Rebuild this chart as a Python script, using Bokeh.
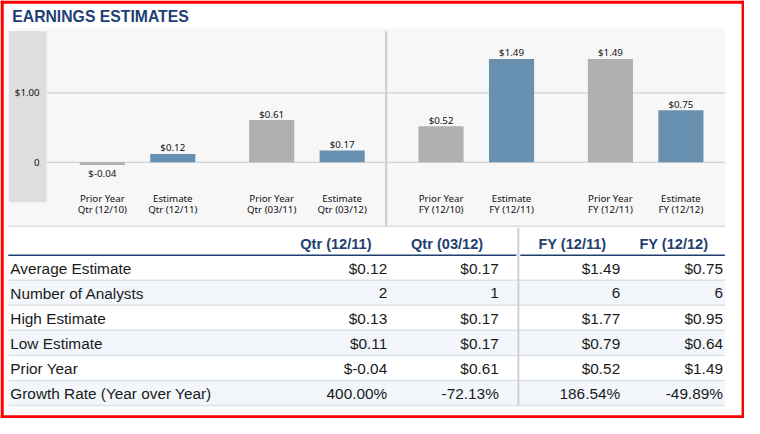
from bokeh.plotting import figure
from bokeh.models import Range1d, ColumnDataSource
from bokeh.transform import factor_cmap
from bokeh.core.properties import value
from bokeh.embed import file_html
from bokeh.resources import INLINE

# ---------------- data ----------------
title_text = "EARNINGS ESTIMATES"

bar_groups = ["Qtr (12/11)", "Qtr (12/11)", "Qtr (03/12)", "Qtr (03/12)",
              "FY (12/11)", "FY (12/11)", "FY (12/12)", "FY (12/12)"]
bar_kinds = ["Prior Year", "Estimate", "Prior Year", "Estimate",
             "Prior Year", "Estimate", "Prior Year", "Estimate"]
bar_periods = ["Qtr (12/10)", "Qtr (12/11)", "Qtr (03/11)", "Qtr (03/12)",
               "FY (12/10)", "FY (12/11)", "FY (12/11)", "FY (12/12)"]
bar_values = [-0.04, 0.12, 0.61, 0.17, 0.52, 1.49, 1.49, 0.75]

y_ticks = [0, 1]
y_tick_labels = ["0", "$1.00"]

table_headers = ["Qtr (12/11)", "Qtr (03/12)", "FY (12/11)", "FY (12/12)"]
row_labels = ["Average Estimate", "Number of Analysts", "High Estimate",
              "Low Estimate", "Prior Year", "Growth Rate (Year over Year)"]
average_estimate = [0.12, 0.17, 1.49, 0.75]
number_of_analysts = [2, 1, 6, 6]
high_estimate = [0.13, 0.17, 1.77, 0.95]
low_estimate = [0.11, 0.17, 0.79, 0.64]
prior_year = [-0.04, 0.61, 0.52, 1.49]
growth_rate = [400.00, -72.13, 186.54, -49.89]

# ---------------- layout (reference pixel space) ----------------
W, H = 744, 418
RW, RH = 760, 434
FS = 0.972  # font scale

def px(v):
    return f"{v * FS:.2f}px"

p = figure(width=W, height=H, x_range=Range1d(0, RW), y_range=Range1d(RH, 0),
           output_backend="svg", toolbar_location=None,
           x_axis_type=None, y_axis_type=None, min_border=0,
           outline_line_color=None, background_fill_color="white",
           border_fill_color="white")

# category slot scale: one slot per bar, extra gap between pairs
GP = 0.403
SLOT = 72.0
X0 = 104.0
p.extra_x_ranges = {"cx": Range1d(-X0 / SLOT, (RW - X0) / SLOT)}
p.extra_y_ranges = {"cy": Range1d(-(RH - 168) / 72.0, 168 / 72.0)}
bar_pos = []
for i, g in enumerate(bar_groups):
    k = len(dict.fromkeys(bar_groups[:i + 1])) - 1   # index of the group
    bar_pos.append(i + GP * k)

CHART_FONT = value("Noto Sans")
CHART_FS = px(10)

# red frame
p.quad(left=[0, 757, 0, 0], right=[3.3, RW, RW, RW], bottom=[0, 0, 0, 430.6],
       top=[RH, RH, 3.3, RH], fill_color="#FF0000", line_color=None)

# title
p.text(x=[12], y=[16.5], text=[title_text], text_font=value("Liberation Sans"),
       text_font_style="bold", text_font_size=px(16.2), text_color="#1E3F74",
       text_baseline="middle", text_align="left")

# chart background
p.quad(left=[8], right=[740], top=[29], bottom=[234], fill_color="#F7F7F7", line_color=None)
p.quad(left=[8.5], right=[47], top=[32], bottom=[209.5], fill_color="#DEDEDE", line_color=None)
p.segment(x0=[8], x1=[740], y0=[234.5], y1=[234.5], line_color="#DCDCDC", line_width=1.5)

# gridlines & y tick labels
tick_src = ColumnDataSource(dict(y=y_ticks, label=y_tick_labels))
p.segment(x0=47, x1=740, y0="y", y1="y", source=tick_src, y_range_name="cy",
          line_color="#D3D3D3", line_width=1.2)
p.text(x=40, y="y", text="label", source=tick_src, y_range_name="cy",
       text_font=CHART_FONT, text_font_size=CHART_FS, text_color="#111111",
       text_align="right", text_baseline="middle")

# divider in chart
p.segment(x0=[394], x1=[394], y0=[32], y1=[234], line_color="#CBCBCB", line_width=2)

# bars
bar_src = ColumnDataSource(dict(
    x=bar_pos, top=bar_values, kind=bar_kinds,
    label=[f"${v:.2f}" for v in bar_values],
    dy=[-6 if v >= 0 else 8.5 for v in bar_values],
    l1=bar_kinds, l2=bar_periods,
))
p.vbar(x="x", top="top", bottom=0, width=0.64, source=bar_src,
       x_range_name="cx", y_range_name="cy", line_color=None,
       fill_color=factor_cmap("kind", ["#B0B0B0", "#6890B1"], ["Prior Year", "Estimate"]))
p.text(x="x", y="top", text="label", y_offset="dy", source=bar_src,
       x_range_name="cx", y_range_name="cy", text_font=CHART_FONT,
       text_font_size=CHART_FS, text_color="#111111", text_align="center",
       text_baseline="middle")
p.text(x="x", y=205.5, text="l1", source=bar_src, x_range_name="cx",
       text_font=CHART_FONT, text_font_size=CHART_FS, text_color="#111111",
       text_align="center", text_baseline="middle")
p.text(x="x", y=217.5, text="l2", source=bar_src, x_range_name="cx",
       text_font=CHART_FONT, text_font_size=CHART_FS, text_color="#111111",
       text_align="center", text_baseline="middle")

# ---------------- table ----------------
HEAD_Y = 253
LINE_Y = 264.5
ROW_H = 26
value_right = [395, 509, 633, 738]
header_right = [379, 493, 619, 723]

n_rows = len(row_labels)
row_tops = [LINE_Y + ROW_H * i for i in range(n_rows)]
alt = [i for i in range(n_rows) if i % 2 == 1]
p.quad(left=8, right=740, top=[row_tops[i] for i in alt],
       bottom=[row_tops[i] + ROW_H for i in alt], fill_color="#F3F7FB", line_color=None)
p.segment(x0=8, x1=740, y0=[t + ROW_H for t in row_tops], y1=[t + ROW_H for t in row_tops],
          line_color="#DCE2E8", line_width=1.5)

# header
p.text(x=header_right, y=HEAD_Y, text=table_headers, text_font=value("Liberation Sans"),
       text_font_style="bold", text_font_size=px(15), text_color="#1F3F6F",
       text_align="right", text_baseline="middle")
p.segment(x0=[8, 531], x1=[527, 740], y0=LINE_Y, y1=LINE_Y, line_color="#1F3F6F", line_width=1.6)
p.segment(x0=[529], x1=[529], y0=[236], y1=[421], line_color="#D0D0D0", line_width=2)

rows_fmt = [
    [f"${v:.2f}" for v in average_estimate],
    [str(v) for v in number_of_analysts],
    [f"${v:.2f}" for v in high_estimate],
    [f"${v:.2f}" for v in low_estimate],
    [f"${v:.2f}" for v in prior_year],
    [f"{v:.2f}%" for v in growth_rate],
]
row_centers = [t + ROW_H / 2 + 0.5 for t in row_tops]
p.text(x=10, y=row_centers, text=row_labels, text_font=value("Liberation Sans"),
       text_font_size=px(15.8), text_color="#1A1A1A", text_align="left",
       text_baseline="middle")
cell_x, cell_y, cell_t = [], [], []
for i, row in enumerate(rows_fmt):
    for j, t in enumerate(row):
        cell_x.append(value_right[j])
        cell_y.append(row_centers[i])
        cell_t.append(t)
p.text(x=cell_x, y=cell_y, text=cell_t, text_font=value("Liberation Sans"),
       text_font_size=px(15.8), text_color="#1A1A1A", text_align="right",
       text_baseline="middle")

open("out.html", "w").write(file_html(p, INLINE))
